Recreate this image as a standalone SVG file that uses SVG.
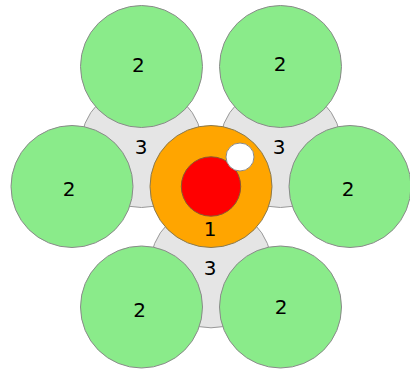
<svg xmlns="http://www.w3.org/2000/svg" width="410" height="370" viewBox="0 0 410 370">
  <style>
    .gap { fill: #e5e5e5; stroke: #999999; stroke-width: 1; }
    .strand { fill: #8aeb8a; stroke: #8a8a8a; stroke-width: 1; }
    .core { fill: #ffa500; stroke: #8a7a50; stroke-width: 1; }
    .inner { fill: #ff0000; stroke: #8a5a30; stroke-width: 1; }
    .hole { fill: #ffffff; stroke: #8a8a8a; stroke-width: 1; }
    text { font-family: "DejaVu Sans", sans-serif; font-size: 20px; fill: #000000; text-anchor: middle; }
  </style>

  <!-- filler regions between the strands -->
  <g id="filler-upper-left">
    <circle class="gap" cx="141.5" cy="146.5" r="61"/>
    <text x="141" y="154">3</text>
  </g>
  <g id="filler-upper-right">
    <circle class="gap" cx="280.5" cy="146.5" r="61"/>
    <text x="279" y="153.5">3</text>
  </g>
  <g id="filler-bottom">
    <circle class="gap" cx="211" cy="266.8" r="61"/>
    <text x="210" y="275">3</text>
  </g>

  <!-- outer strands -->
  <g id="strand-top-left">
    <circle class="strand" cx="141.5" cy="66.5" r="61"/>
    <text x="138.3" y="72">2</text>
  </g>
  <g id="strand-top-right">
    <circle class="strand" cx="280.5" cy="66.5" r="61"/>
    <text x="280" y="70.5">2</text>
  </g>
  <g id="strand-left">
    <circle class="strand" cx="72" cy="186.5" r="61"/>
    <text x="69" y="195.5">2</text>
  </g>
  <g id="strand-right">
    <circle class="strand" cx="350" cy="186.5" r="61"/>
    <text x="348" y="195.5">2</text>
  </g>
  <g id="strand-bottom-left">
    <circle class="strand" cx="141.5" cy="307" r="61"/>
    <text x="139.5" y="317">2</text>
  </g>
  <g id="strand-bottom-right">
    <circle class="strand" cx="280.5" cy="307" r="61"/>
    <text x="281" y="314">2</text>
  </g>

  <!-- central core -->
  <g id="core">
    <circle class="core" cx="211" cy="186.5" r="61"/>
    <circle class="inner" cx="211" cy="186.5" r="29.7"/>
    <circle class="hole" cx="240" cy="157" r="14"/>
    <text x="210" y="236">1</text>
  </g>
</svg>
